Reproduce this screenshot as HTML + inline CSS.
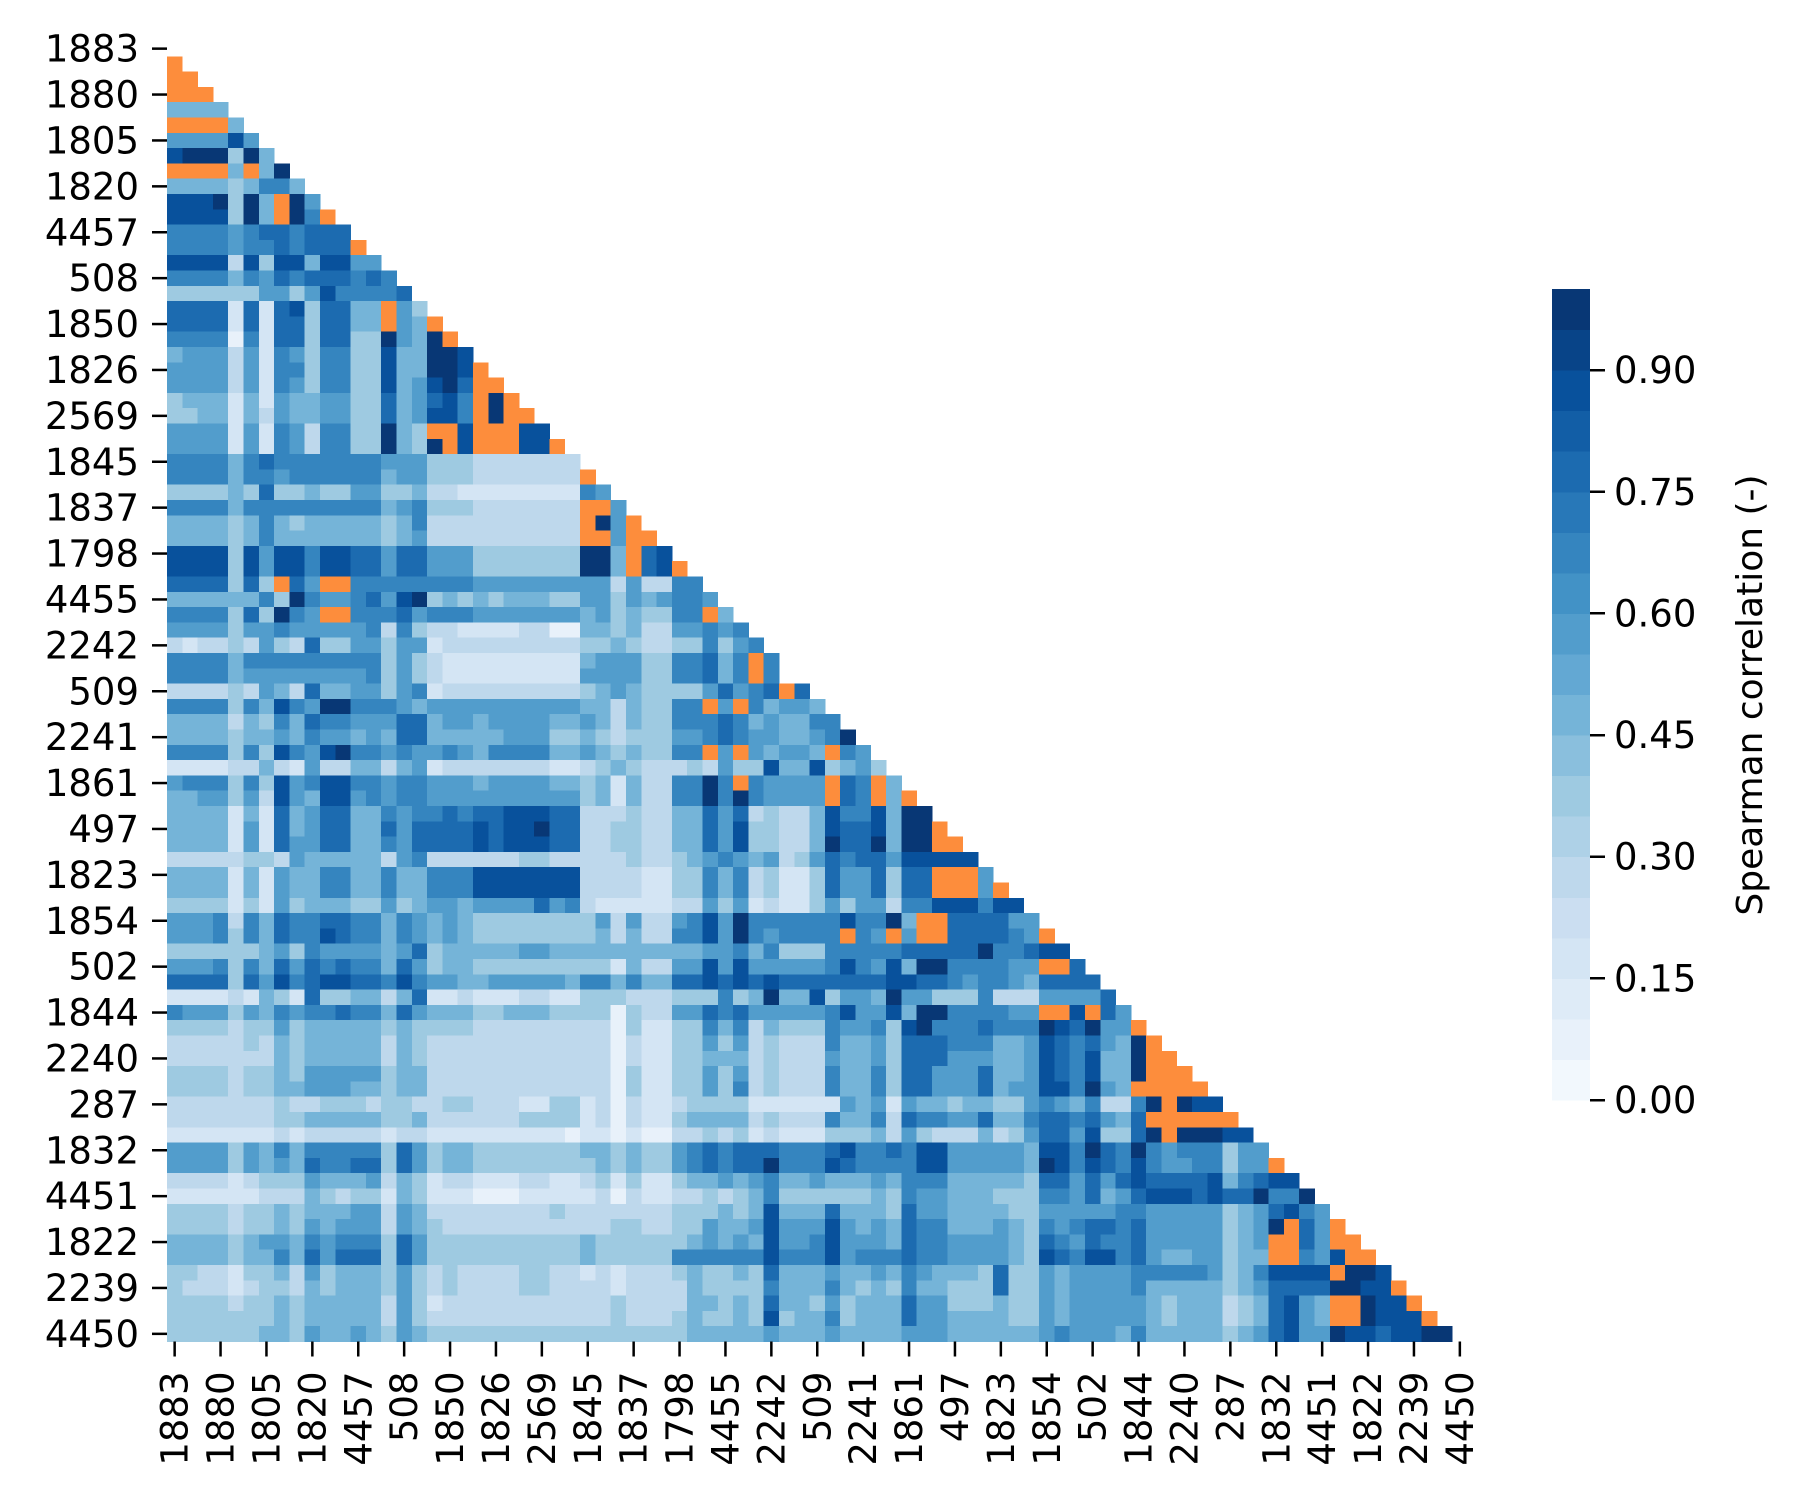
<!DOCTYPE html>
<html><head><meta charset="utf-8"><style>
html,body{margin:0;padding:0;background:#fff;}
svg{display:block;font-family:"DejaVu Sans","Liberation Sans",sans-serif;}
</style></head><body>
<svg id="chart" width="1797" height="1509" viewBox="0 0 1797 1509" xmlns="http://www.w3.org/2000/svg">
<rect width="1797" height="1509" fill="#fff"/>
<g id="cells" shape-rendering="crispEdges"></g>
<g id="yaxis"></g>
<g id="xaxis"></g>
<g id="cbar" shape-rendering="crispEdges"></g>
<text x="0" y="0" font-size="36" text-anchor="middle" transform="translate(1762,695) rotate(-90)">Spearman correlation (-)</text>
</svg>
<script>
const labels = ["1883","1880","1805","1820","4457","508","1850","1826","2569","1845","1837","1798","4455","2242","509","2241","1861","497","1823","1854","502","1844","2240","287","1832","4451","1822","2239","4450"];
const cbTicks = [0.00,0.15,0.30,0.45,0.60,0.75,0.90];
// each row: one char per cell (col 0..row-1); digit d => value d/10+0.05, x => negative (orange)
const rows = [
"","x","xx","xxx","4444","xxxx4","555585","8999394","xxxx4x49","444434664",
"8889394x95","8888394x96x","666656776777","666656676777x","88882838848855","666646576777676","3333335535866667","77771717837744x53","77771717737744x54x","666606177377339549x",
"45552516536633844998","55552516636633844998x","55552516536633845897xx","34441415445533745786x9x","33441425445533745886x9xx","55551516526633943xx8xxx88","555515165266339439x8xxx88x","666646766666665553332222222","666646656666664553332222222x","33334373343355334221111111165",
"666646666666664563332222222xx5","444434643444443462222222222x95x","444434644444443452222222222xx5xx","888838588688775775553333333994x78","888838588688775775553333333994x78x","7777373x75xx66666666555555555252266","444444639655675893434344433553545665","6666373965xx66675666555555545343366x4","55553556555556263221111220044342255656","212232532733553551222222222334322336356",
"66664666666666353211111111145553366746x6","66664555555556353211111111155553366746x6","2222325427445535612222222223454333357567x7","66663648659966654555555555544243366x5x64554",
"44442436476655577"+"4554555544"+"5424"+"3366676454466",
"44443445465545477"+"4444455533"+"432333556765544569",
"66663638658966565"+"5654666644"+"54343366x5x54554x65",
"11112242152244245"+"1222222211"+"23432223253384483453",
"56663638568866566"+"5554555544"+"3414226696x65555x76x4",
"44553528548856566"+"5555555555"+"3414226696965555x76x4x",
"44441417457744656"+"6767788877"+"22232244757232248668499",
"44441517457744757"+"7778788977"+"22332244758332248778499x",
"44441517557744657"+"7778788877"+"22332244758332249779499xx",
"22222332544444256"+"2222223322"+"22232234565452357677588888",
"44441415446644644"+"6668888888"+"22221133646231137557377xxx5",
"44441415446644644"+"6668888888"+"22221133646231137557377xxx5x",
"33331315344433534"+"5545555756"+"21111122535121135355266888688",
"55562647667766465"+"4543333333"+"3525225685966666686694xx777755",
"55563647668766465"+"4543333333"+"34242266859656666x65x5xx777765x",
"33333345365555457"+"3444445544"+"44444444556463336666677777966788",
"55563647576766475"+"3443333333"+"331422558585555568658499666655xx7",
"77773758678877686"+"5544555554"+"6646447787878777777788776566547777",
"11112143173344247"+"1121112211"+"33322233363494483554955333622255557",
"65553546566766475"+"4443344433"+"330322557675555568558499666655xx8x75",
"33332335344444343"+"3332222222"+"220311336462433365563896667666987955x",
"22222324344444243"+"2222222222"+"2202113353523222644537776664458767549x",
"22222224344444243"+"2222222222"+"2202113344423222544537775554458768449xx",
"33332334355555344"+"2222222222"+"2203113353523222644637755574458768449xxx",
"33332334455544344"+"2222222222"+"220311335362322264463775557455886954xxxxx",
"22222223223332332"+"2332221133"+"12021123333"+"111111"+"5451"+"54434433"+"56546"+"2269"+"x988",
"22222223344444334"+"2222223333"+"12021134444"+"23222"+"64462"+"766557"+"4467767547"+"xxxxxx",
"11111112122222122"+"1111111110"+"11010022323"+"12111"+"33342"+"532224"+"2357758337"+"9x99988",
"55553546466666375"+"3443333333"+"44343356767"+"77666"+"78667"+"688555"+"5548869769"+"65666355",
"55553545476677375"+"3443333333"+"34343356767"+"79666"+"87666"+"688555"+"5549868768"+"65566355x",
"22221233354445243"+"1221112211"+"23131134454"+"56445"+"44454"+"666444"+"4437757578"+"7777846788",
"11111122243233143"+"1110001111"+"12021122323"+"46333"+"33343"+"655444"+"3336657457"+"88878779669",
"33332334344455254"+"2222222232"+"22222233343"+"48444"+"74443"+"755444"+"4335555566"+"555553457865",
"33332334354555254"+"3222222222"+"22332233544"+"58555"+"85454"+"766444"+"5436567767"+"555553459x75x",
"44443455465666375"+"3333333333"+"43333334545"+"48556"+"85554"+"766555"+"5437657667"+"55555345xx75xx",
"44443446475777375"+"3333333333"+"43333366666"+"68666"+"85666"+"766555"+"5438768867"+"54455344xx658xx",
"33221334253444353"+"2322223322"+"12122234334"+"37444"+"54454"+"654443"+"7335455556"+"666653468888x998",
"32221233243444353"+"2322223322"+"22122224333"+"36444"+"64343"+"644333"+"7335455556"+"4444434577779988x",
"33332334344444253"+"1222222222"+"22322224434"+"37443"+"53444"+"755333"+"4335455555"+"434442347854xx988x",
"33333334344444253"+"2222222222"+"22322234334"+"38344"+"63444"+"755444"+"4335455555"+"434442347854xx9888x",
"33333344354454354"+"3333333333"+"33333334444"+"45444"+"54444"+"555444"+"4445655546"+"44444345785598878899"
];

const N = 85, X0 = 167, Y0 = 41, CELL = 15.3;
const CB_X = 1552, CB_W = 38, CB_TOP = 289, CB_BOT = 1100, VMIN = 0, VMAX = 1;
const NS = "http://www.w3.org/2000/svg";
const stops = [[0,[247,251,255]],[0.125,[222,235,247]],[0.25,[198,219,239]],[0.375,[158,202,225]],[0.5,[107,174,214]],[0.625,[66,146,198]],[0.75,[33,113,181]],[0.875,[8,81,156]],[1,[8,48,107]]];
function blues(v){
  v = Math.max(0, Math.min(0.9999, v));
  v = (Math.floor(v*20)+0.5)/20;
  for (let i=1;i<stops.length;i++){
    if (v<=stops[i][0]){
      const a=stops[i-1], b=stops[i], t=(v-a[0])/(b[0]-a[0]);
      const c=a[1].map((x,k)=>Math.round(x+(b[1][k]-x)*t));
      return "rgb("+c.join(",")+")";
    }
  }
  return "rgb(8,48,107)";
}
function xScale(c){ return X0 + c*CELL; }
function yScale(r){ return Y0 + r*CELL; }
function cbScale(v){ return CB_BOT - (v-VMIN)/(VMAX-VMIN)*(CB_BOT-CB_TOP); }
function mk(tag, attrs, parent){ const e=document.createElementNS(NS,tag); for(const k in attrs) e.setAttribute(k, attrs[k]); parent.appendChild(e); return e; }

const gCells = document.getElementById("cells");
rows.forEach((s, r) => {
  for (let c = 0; c < Math.min(s.length, r); c++) {
    const ch = s[c];
    const fill = ch === "x" ? "#fd8d3c" : blues(parseInt(ch,10)/10 + 0.05);
    const rect = mk("rect", {x:xScale(c).toFixed(2), y:yScale(r).toFixed(2), width:(CELL+0.4).toFixed(2), height:(CELL+0.4).toFixed(2), fill:fill}, gCells);
    
    
  }
});

const gy = document.getElementById("yaxis"), gx = document.getElementById("xaxis");
labels.forEach((lab, i) => {
  const idx = i*3;
  const cy = yScale(idx) + CELL/2;
  const t1 = mk("line", {x1:X0-15, x2:X0, y1:cy, y2:cy, stroke:"#000", "stroke-width":2.5}, gy);
  
  
  const tx = mk("text", {x:X0-28, y:cy+13, "font-size":37, "text-anchor":"end", fill:"#000"}, gy);
  tx.textContent = lab;
  
  
  const cx = xScale(idx) + CELL/2;
  const yb = Y0 + N*CELL;
  const t2 = mk("line", {x1:cx, x2:cx, y1:yb, y2:yb+15, stroke:"#000", "stroke-width":2.5}, gx);
  
  
  const tt = mk("text", {x:0, y:0, "font-size":37, "text-anchor":"end", fill:"#000", transform:"translate("+(cx+13)+","+(yb+30)+") rotate(-90)"}, gx);
  tt.textContent = lab;
  
  
});

const gcb = document.getElementById("cbar");
for (let k = 0; k < 20; k++) {
  const v0 = k/20, v1 = (k+1)/20;
  const b = mk("rect", {x:CB_X, y:cbScale(v1).toFixed(2), width:CB_W, height:(cbScale(v0)-cbScale(v1)+0.5).toFixed(2), fill:blues((v0+v1)/2)}, gcb);
  
  
}
cbTicks.forEach(v => {
  const y = cbScale(v);
  const tl = mk("line", {x1:CB_X+CB_W, x2:CB_X+CB_W+15, y1:y, y2:y, stroke:"#000", "stroke-width":2.5}, gcb);
  
  
  const t = mk("text", {x:CB_X+CB_W+24, y:y+13, "font-size":37, fill:"#000"}, gcb);
  t.textContent = v.toFixed(2);
  
  
});
</script>
</body></html>
